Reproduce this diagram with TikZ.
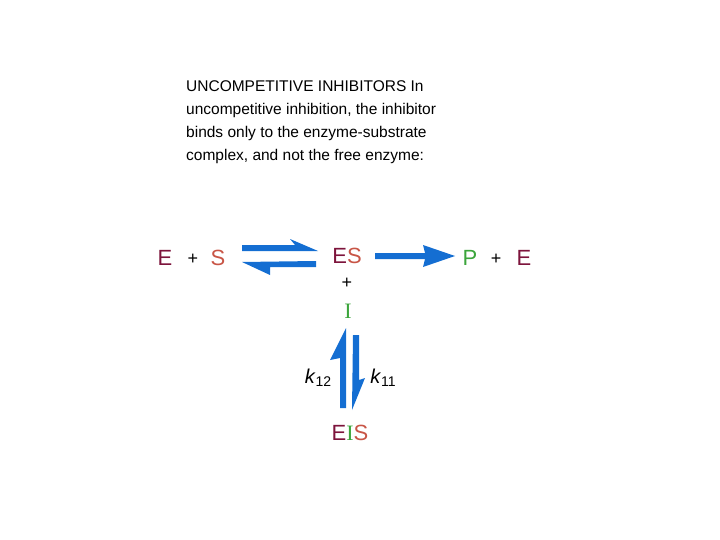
\documentclass[tikz,border=0pt]{standalone}
\usepackage{fontspec}
\setmainfont{Liberation Sans}
\newfontfamily\serifI{Liberation Serif}
\definecolor{enz}{RGB}{125,20,60}
\definecolor{sub}{RGB}{200,85,70}
\definecolor{grn}{RGB}{60,165,60}
\definecolor{arr}{RGB}{20,110,210}
\begin{document}
\begin{tikzpicture}[x=1pt,y=-1pt,
  lbl/.style={inner sep=0pt,font=\fontsize{22}{22}\selectfont},
  arrfill/.style={fill=arr,draw=none}]
\useasboundingbox (0,0) rectangle (720,540);
\node[anchor=north west,align=left,inner sep=0pt,font=\fontsize{15.5}{23}\selectfont] (txt) at (186,80)
 {UNCOMPETITIVE INHIBITORS In\\uncompetitive inhibition, the inhibitor\\binds only to the enzyme-substrate\\complex, and not the free enzyme:};
\node[lbl,text=enz] (e1) at (165,258) {E};
\node[lbl,font=\fontsize{18}{18}\selectfont] (p1) at (193,259) {+};
\node[lbl,text=sub] (s) at (218,258) {S};
\node[lbl] (es) at (347,256) {\textcolor{enz}{E}\textcolor{sub}{S}};
\node[lbl,text=grn] (pr) at (470,258) {P};
\node[lbl,font=\fontsize{18}{18}\selectfont] (p2) at (496,259) {+};
\node[lbl,text=enz] (e2) at (524,258) {E};
\node[lbl,font=\fontsize{18}{18}\selectfont] (p3) at (347,283) {+};
\node[lbl,text=grn,font=\fontsize{22}{22}\serifI] (i) at (348,311) {I};
\node[inner sep=0pt,font=\fontsize{20}{20}\selectfont] (k12) at (318,378) {\textit{k}\raisebox{-3pt}{\fontsize{14}{14}\selectfont 12}};
\node[inner sep=0pt,font=\fontsize{20}{20}\selectfont] (k11) at (383,378) {\textit{k}\raisebox{-3pt}{\fontsize{14}{14}\selectfont 11}};
\node[lbl] (eis) at (350,433) {\textcolor{enz}{E}\textcolor{grn}{\serifI I}\textcolor{sub}{S}};
% top harpoon (right)
\path[arrfill] (242,245) -- (295,245) -- (290,239) -- (318,251) -- (242,251) -- cycle;
% bottom harpoon (left)
\path[arrfill] (316,261) -- (316,267) -- (270,267) -- (270,275) -- (242,262) -- cycle;
% right arrow
\path[arrfill] (375,253) -- (425,253) -- (423,245) -- (455,256) -- (423,267) -- (425,259) -- (375,259) -- cycle;
% vertical up harpoon (left)
\path[arrfill] (340,408) -- (346,408) -- (346,328) -- (330,360) -- (340,358) -- cycle;
% vertical down harpoon (right)
\path[arrfill] (353,335) -- (359,335) -- (359,380) -- (365,378) -- (352,410) -- cycle;
\end{tikzpicture}
\end{document}
